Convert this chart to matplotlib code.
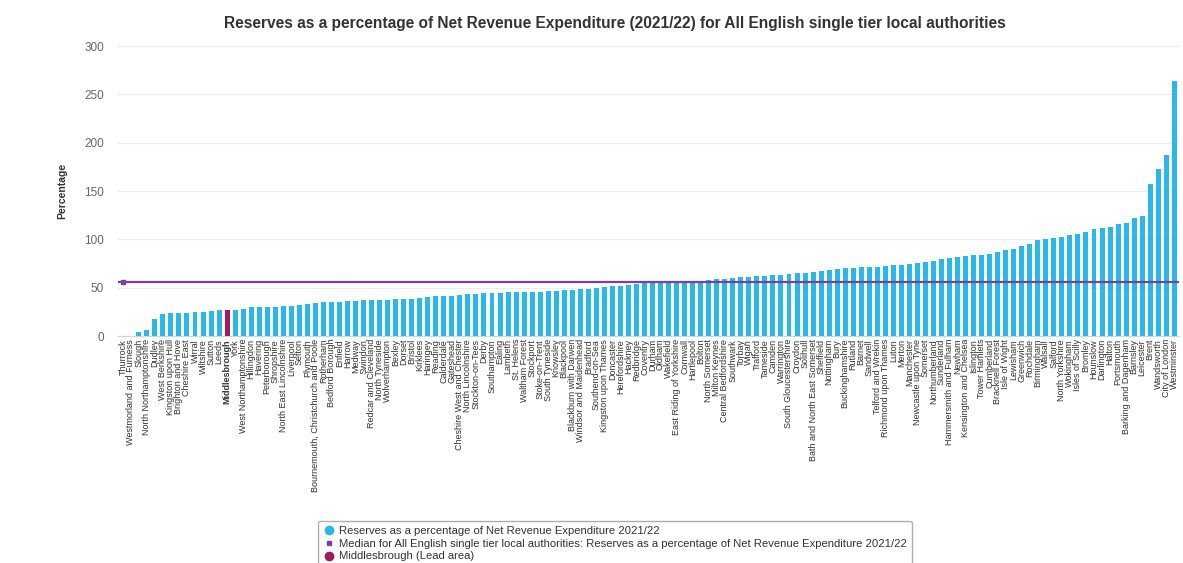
import matplotlib
matplotlib.use('Agg')
import matplotlib.pyplot as plt
from matplotlib.lines import Line2D

plt.rcParams['font.family'] = ['Liberation Sans', 'DejaVu Sans']

authorities = [
    'Thurrock', 'Westmorland and Furness', 'Slough', 'North Northamptonshire', 'Dudley',
    'West Berkshire', 'Kingston upon Hull', 'Brighton and Hove', 'Cheshire East', 'Wirral',
    'Wiltshire', 'Sutton', 'Leeds', 'Middlesbrough', 'York', 'West Northamptonshire',
    'Hillingdon', 'Havering', 'Peterborough', 'Shropshire', 'North East Lincolnshire',
    'Liverpool', 'Sefton', 'Plymouth', 'Bournemouth, Christchurch and Poole', 'Rotherham',
    'Bedford Borough', 'Enfield', 'Harrow', 'Medway', 'Swindon', 'Redcar and Cleveland',
    'North Tyneside', 'Wolverhampton', 'Bexley', 'Dorset', 'Bristol', 'Kirklees', 'Haringey',
    'Reading', 'Calderdale', 'Gateshead', 'Cheshire West and Chester', 'North Lincolnshire',
    'Stockton-on-Tees', 'Derby', 'Southampton', 'Ealing', 'Lambeth', 'St. Helens',
    'Waltham Forest', 'Stockport', 'Stoke-on-Trent', 'South Tyneside', 'Knowsley', 'Blackpool',
    'Blackburn with Darwen', 'Windsor and Maidenhead', 'Bradford', 'Southend-on-Sea',
    'Kingston upon Thames', 'Doncaster', 'Herefordshire', 'Hackney', 'Redbridge', 'Coventry',
    'Durham', 'Oldham', 'Wakefield', 'East Riding of Yorkshire', 'Cornwall', 'Hartlepool',
    'Bolton', 'North Somerset', 'Milton Keynes', 'Central Bedfordshire', 'Southwark', 'Torbay',
    'Wigan', 'Trafford', 'Tameside', 'Camden', 'Warrington', 'South Gloucestershire', 'Croydon',
    'Solihull', 'Bath and North East Somerset', 'Sheffield', 'Nottingham', 'Bury',
    'Buckinghamshire', 'Rutland', 'Barnet', 'Sandwell', 'Telford and Wrekin',
    'Richmond upon Thames', 'Luton', 'Merton', 'Manchester', 'Newcastle upon Tyne', 'Somerset',
    'Northumberland', 'Sunderland', 'Hammersmith and Fulham', 'Newham', 'Kensington and Chelsea',
    'Islington', 'Tower Hamlets', 'Cumberland', 'Bracknell Forest', 'Isle of Wight', 'Lewisham',
    'Greenwich', 'Rochdale', 'Birmingham', 'Walsall', 'Salford', 'North Yorkshire', 'Wokingham',
    'Isles of Scilly', 'Bromley', 'Hounslow', 'Darlington', 'Halton', 'Portsmouth',
    'Barking and Dagenham', 'Barnsley', 'Leicester', 'Brent', 'Wandsworth', 'City of London',
    'Westminster',
]

reserves_pct = [
    0, 0, 4, 6, 18, 23, 24, 24, 24, 24.5, 25, 26, 27, 27, 27, 28, 30, 30, 30, 30, 31, 31, 32,
    33, 34, 35, 35, 35.5, 36, 36, 37, 37, 37, 37.5, 38, 38, 38.5, 39, 40, 41, 41, 42, 43, 44,
    44, 44.5, 45, 45, 45.5, 46, 46, 46, 46, 46.5, 47, 48, 48, 49, 49, 50, 51, 51.5, 52, 53, 54,
    55, 55, 55.5, 56, 56, 56, 56.5, 57, 58, 59, 59.5, 60, 61, 61, 62, 62, 63, 63, 64, 65, 65,
    66, 67, 68, 69, 70, 70, 71, 71, 72, 73, 74, 74, 75, 76, 77, 78, 80, 81, 82, 83, 84, 84, 85,
    87, 89, 90, 93, 95, 99, 100, 101, 103, 105, 106, 108, 111, 112, 113, 116, 117, 122, 124,
    157, 173, 187, 264,
]

median_pct = 56
lead_area = 'Middlesbrough'

bar_blue = '#2bb7e8'
lead_red = '#a3195b'
median_purple = '#7b3fa0'

fig = plt.figure(figsize=(11.83, 5.63), dpi=100)
ax = fig.add_axes([0.0997, 0.403, 0.897, 0.515])

xs = list(range(len(authorities)))
colors = [lead_red if a == lead_area else bar_blue for a in authorities]
ax.bar(xs, reserves_pct, width=0.62, color=colors, zorder=2)
ax.axhline(median_pct, color=median_purple, linewidth=1.6, zorder=3)
ax.plot([0], [median_pct], marker='s', markersize=3, color=median_purple, zorder=4)

ax.set_xlim(-0.6, len(authorities) - 0.4)
ax.set_ylim(0, 300)
ax.set_yticks(range(0, 301, 50))
ax.yaxis.grid(True, color='#ececec', linewidth=0.8, zorder=0)
ax.set_axisbelow(True)
for side in ['top', 'right', 'left']:
    ax.spines[side].set_visible(False)
ax.spines['bottom'].set_color('#ccd6eb')
ax.tick_params(axis='y', length=0, labelsize=8.5, colors='#666666', pad=10)
ax.tick_params(axis='x', length=0, pad=2)

ax.set_xticks(xs)
ax.set_xticklabels(authorities, rotation=90, fontsize=6.5, color='#333333')
for lbl in ax.get_xticklabels():
    if lbl.get_text() == lead_area:
        lbl.set_fontweight('bold')

ax.set_ylabel('Percentage', fontsize=7.5, fontweight='bold', color='#333333', labelpad=12)
fig.text(0.52, 0.958, 'Reserves as a percentage of Net Revenue Expenditure (2021/22) for All English single tier local authorities',
         ha='center', va='center', fontsize=11.2, fontweight='bold', color='#333333')

handles = [
    Line2D([], [], linestyle='none', marker='o', markersize=6, color=bar_blue),
    Line2D([], [], linestyle='none', marker='s', markersize=2.5, color=median_purple),
    Line2D([], [], linestyle='none', marker='o', markersize=6, color=lead_red),
]
labels = [
    'Reserves as a percentage of Net Revenue Expenditure 2021/22',
    'Median for All English single tier local authorities: Reserves as a percentage of Net Revenue Expenditure 2021/22',
    'Middlesbrough (Lead area)',
]
leg = fig.legend(handles, labels, loc='upper left', bbox_to_anchor=(0.264, 0.085),
                 fontsize=8.1, frameon=True, fancybox=True, edgecolor='#999999',
                 handletextpad=0.4, labelspacing=0.25, borderpad=0.45, handlelength=1.0)
for t in leg.get_texts():
    t.set_color('#333333')

fig.savefig('out.png', dpi=100)
